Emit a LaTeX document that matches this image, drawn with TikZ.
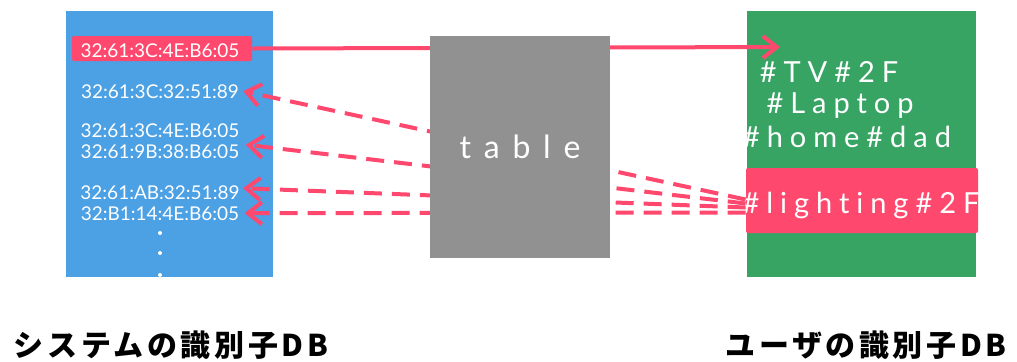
\documentclass[tikz,border=0pt]{standalone}
\usepackage{fontspec}
\setmainfont{Lato}
\newfontfamily\macfont{Lato}
\newfontfamily\tagfont[LetterSpace=24, Ligatures=NoCommon]{Lato}
\newfontfamily\tablefont[LetterSpace=40, Ligatures=NoCommon]{Lato}
\newfontfamily\jpfont[LetterSpace=12]{Noto Sans CJK JP}
\usepackage{tikz}
\usetikzlibrary{arrows.meta, positioning, calc}
\definecolor{sysblue}{RGB}{76,160,228}
\definecolor{usergreen}{RGB}{56,164,100}
\definecolor{hitred}{RGB}{255,72,110}
\definecolor{tablegrey}{RGB}{145,145,145}
\pgfdeclarelayer{front}
\pgfsetlayers{main,front}
\tikzset{
  dbbox/.style={rectangle, inner sep=0pt, draw=none},
  sysbox/.style={dbbox, fill=sysblue, minimum width=103.5pt, minimum height=133pt},
  userbox/.style={dbbox, fill=usergreen, minimum width=114.5pt, minimum height=133pt},
  tablebox/.style={dbbox, fill=tablegrey, minimum width=90pt, minimum height=111pt,
    text=white, font=\tablefont\fontsize{16}{19}\selectfont},
  hitbox/.style={dbbox, fill=hitred, rounded corners=1pt},
  macnode/.style={inner sep=0pt, anchor=base, text=white, align=center,
    font=\macfont\fontsize{9.5}{10.5}\selectfont},
  tagnode/.style={inner sep=0pt, anchor=base, text=white,
    font=\tagfont\fontsize{14.5}{17}\selectfont},
  dblabel/.style={inner sep=0pt, anchor=base, font=\jpfont\bfseries\fontsize{15}{18}\selectfont},
  linkarrow/.style={-{Straight Barb[length=7pt,width=11pt,line width=2pt]}, line width=2pt, color=hitred},
  dashedlink/.style={linkarrow, dash pattern=on 9pt off 5pt}
}
\begin{document}
\begin{tikzpicture}[x=0.5pt, y=-0.5pt]
  \useasboundingbox (0,0) rectangle (1017,361);

  % databases
  \node[sysbox] (sysdb) at (169.5,144) {};
  \node[userbox] (userdb) at (861.5,144) {};

  % system identifiers
  \node[hitbox, minimum width=90pt, minimum height=12.5pt] (hitmac) at (162,48.5) {};
  \node[macnode] (mac0) at (160,57) {32:61:3C:4E:B6:05};
  \node[macnode] (mac1) at (160,98) {32:61:3C:32:51:89};
  \node[macnode] (mac2) at (160,158) {32:61:3C:4E:B6:05\\32:61:9B:38:B6:05};
  \node[macnode] (mac3) at (160,199) {32:61:AB:32:51:89};
  \node[macnode] (mac4) at (160,220) {32:B1:14:4E:B6:05};
  \foreach \y in {233,253,275}
    \fill[white] (160,\y) circle (1pt);

  % user identifiers
  \node[hitbox, minimum width=116pt, minimum height=32.5pt] (hittag) at (862,200.5) {};
  \node[tagnode] (tv) at (829,82) {\#TV\#2F};
  \node[tagnode] (laptop) at (840,113) {\#Laptop};
  \node[tagnode] (home) at (847,147) {\#home\#dad};
  \node[tagnode] (light) at (861,213) {\#lighting\#2F};

  % lookup table, drawn over the links
  \begin{pgfonlayer}{front}
    \node[tablebox] (table) at (520,147) {table};
  \end{pgfonlayer}

  % links
  \coordinate (tvin) at (780,47);
  \draw[linkarrow] (hitmac.east) -- (tvin);
  \draw[dashedlink] ($(hittag.west)+(0,-1)$) -- ($(mac1.east)+(4,0)$);
  \draw[dashedlink] ($(hittag.west)+(0,3)$) -- ($(mac2.east)+(6,4)$);
  \draw[dashedlink] ($(hittag.west)+(0,7)$) -- ($(mac3.east)+(3,-4)$);
  \draw[dashedlink] ($(hittag.west)+(0,12)$) -- ($(mac4.east)+(5,0)$);

  % captions
  \node[dblabel] (syslabel) at (171,356) {システムの識別子DB};
  \node[dblabel] (userlabel) at (866,356) {ユーザの識別子DB};
\end{tikzpicture}
\end{document}
